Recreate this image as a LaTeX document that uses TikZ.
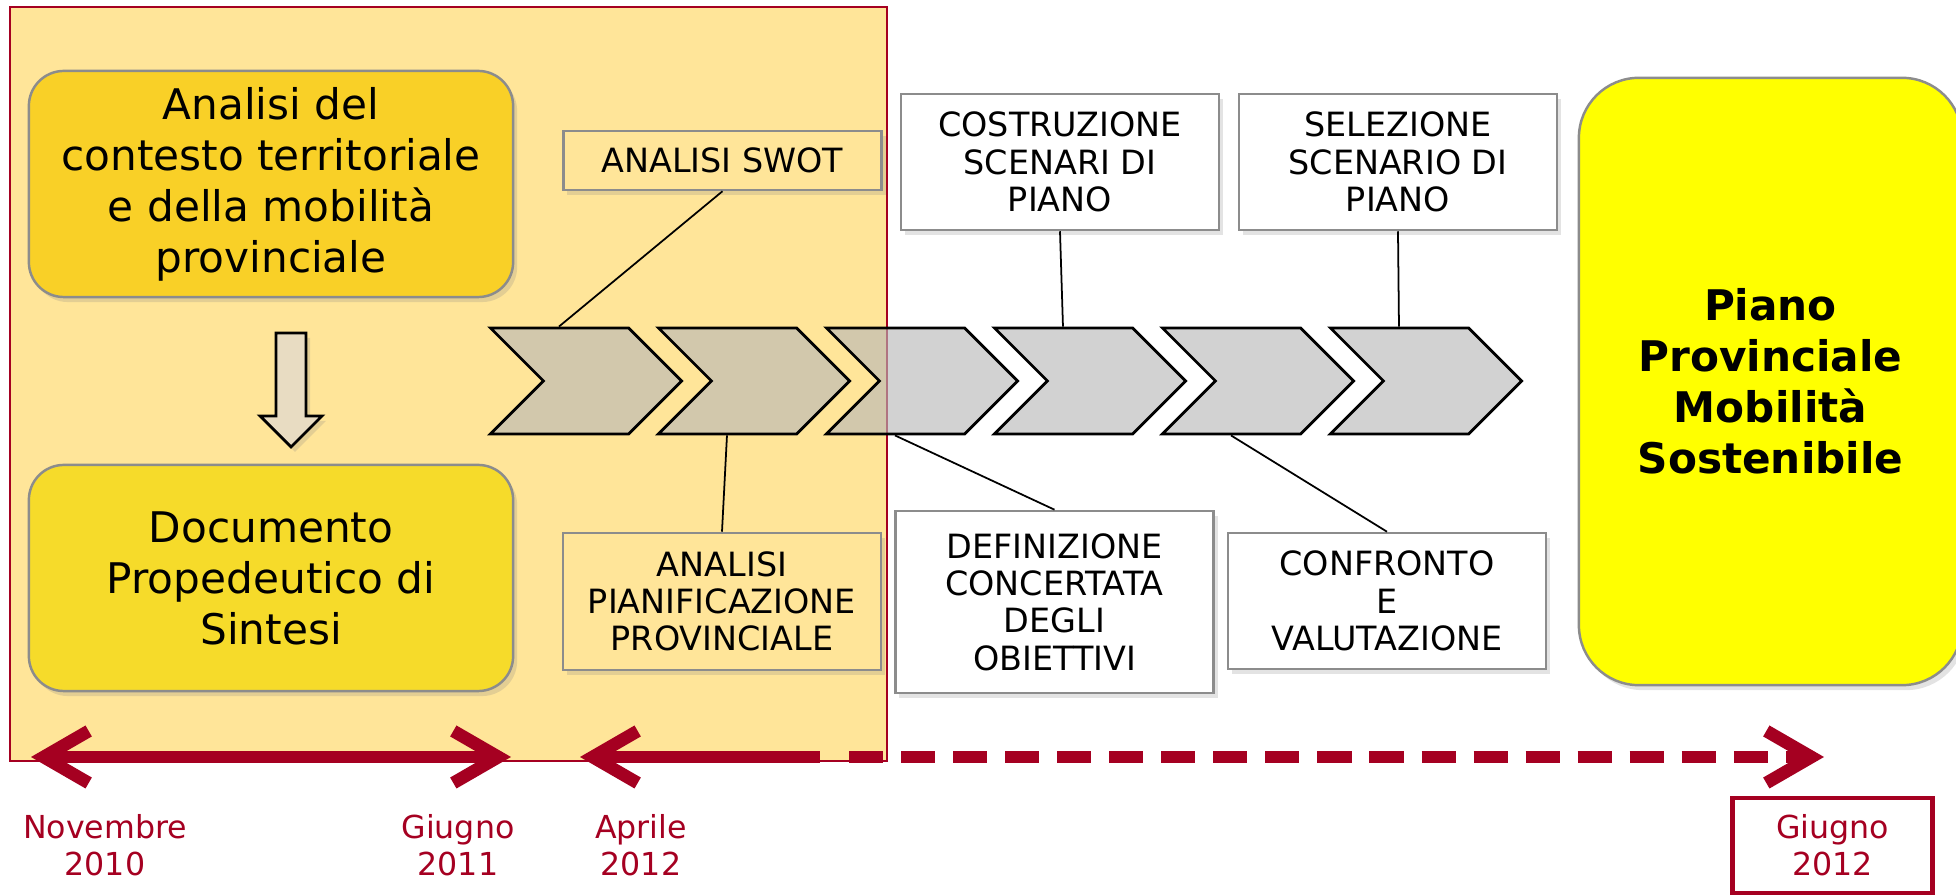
\documentclass[tikz,border=0pt]{standalone}
\usepackage{fontspec}
\setmainfont{DejaVu Sans}
\usetikzlibrary{shapes.symbols, arrows.meta, calc, shadows}
\definecolor{PPPanel}{HTML}{FFE599}
\definecolor{PPGold}{HTML}{F9D027}
\definecolor{PPYellow}{HTML}{F6DB2A}
\definecolor{PPLemon}{HTML}{FFFF00}
\definecolor{PPRed}{HTML}{A50021}
\definecolor{PPGrey}{HTML}{8C8C8C}
\definecolor{PPChevron}{HTML}{B8B8B8}
\definecolor{PPBeige}{HTML}{E8DCC2}
\tikzset{
    % Shadow
    softshadow/.style={
        drop shadow={shadow xshift=0.04cm, shadow yshift=-0.05cm, opacity=0.22}
    },
    % Box styles
    phasebox/.style={
        rectangle,
        rounded corners=0.35cm,
        draw=PPGrey,
        line width=0.7pt,
        softshadow,
        minimum width=4.84cm,
        minimum height=2.26cm,
        align=center,
        font=\fontsize{12}{14.5}\selectfont
    },
    stepbox/.style={
        rectangle,
        draw=PPGrey,
        line width=0.7pt,
        fill=white,
        softshadow,
        minimum width=3.18cm,
        inner sep=2pt,
        align=center,
        font=\fontsize{9.5}{10.6}\selectfont
    },
    chevron/.style={
        signal,
        signal to=east,
        signal from=west,
        draw=black,
        line width=0.8pt,
        fill=PPChevron,
        fill opacity=0.63,
        minimum width=1.91cm,
        minimum height=1.06cm,
        inner sep=0pt
    },
    % Connector styles
    link/.style={
        draw=black,
        line width=0.5pt
    },
    % Timeline styles
    timeline/.style={
        draw=PPRed,
        line width=3.6pt
    },
    datelabel/.style={
        align=center,
        text=PPRed,
        font=\fontsize{9}{10.5}\selectfont
    }
}
\begin{document}
\begin{tikzpicture}[x=0.01cm, y=-0.01cm,
    tip/.tip={Straight Barb[length=0.45cm, width=0.52cm]}]
    \useasboundingbox (0,0) rectangle (1956,895);

    % Phase panel
    \node[rectangle, draw=PPRed, line width=0.6pt, fill=PPPanel,
          minimum width=8.77cm, minimum height=7.54cm] (panel) at (448.5,384) {};

    % Chevrons
    \foreach \i in {1,...,6}
        \node[chevron] (chev\i) at ({586+168*(\i-1)},381) {};

    % Left boxes
    \node[phasebox, fill=PPGold] (contesto) at (271,184)
        {Analisi del\\contesto territoriale\\e della mobilità\\provinciale};
    \node[phasebox, fill=PPYellow] (documento) at (271,578)
        {Documento\\Propedeutico di\\Sintesi};
    \path[draw=black, line width=0.8pt, fill=PPBeige, softshadow]
        (276,333) -- (306,333) -- (306,416) -- (322,416) -- (291,447)
        -- (260,416) -- (276,416) -- cycle;

    % Step boxes
    \node[stepbox, fill=PPPanel, minimum height=0.59cm] (swot) at (722.5,160.5) {ANALISI SWOT};
    \node[stepbox, minimum height=1.36cm] (costruzione) at (1060,162) {COSTRUZIONE\\SCENARI DI\\PIANO};
    \node[stepbox, minimum height=1.36cm] (selezione) at (1398,162) {SELEZIONE\\SCENARIO DI\\PIANO};
    \node[stepbox, fill=PPPanel, minimum height=1.37cm] (pianificazione) at (722,601.5) {ANALISI\\PIANIFICAZIONE\\PROVINCIALE};
    \node[stepbox, minimum height=1.82cm] (definizione) at (1054.5,602) {DEFINIZIONE\\CONCERTATA\\DEGLI\\OBIETTIVI};
    \node[stepbox, minimum height=1.36cm] (confronto) at (1387,601) {CONFRONTO\\E\\VALUTAZIONE};

    % Connectors
    \draw[link] (swot.south) -- ([xshift=-0.27cm]chev1.north);
    \draw[link] (costruzione.south) -- ([xshift=-0.27cm]chev4.north);
    \draw[link] (selezione.south) -- ([xshift=-0.27cm]chev6.north);
    \draw[link] (pianificazione.north) -- ([xshift=-0.27cm]chev2.south);
    \draw[link] (definizione.north) -- ([xshift=-0.27cm]chev3.south);
    \draw[link] (confronto.north) -- ([xshift=-0.27cm]chev5.south);

    % Final plan
    \node[rectangle, rounded corners=0.6cm, draw=PPGrey, line width=0.7pt, fill=PPLemon,
          softshadow, minimum width=3.83cm, minimum height=6.07cm, align=center,
          font=\fontsize{12}{14.5}\selectfont\bfseries] (piano) at (1770.5,381.5)
        {Piano\\Provinciale\\Mobilità\\Sostenibile};

    % Timeline
    \coordinate (novembre) at (31,757);
    \coordinate (giugnoA) at (511,757);
    \coordinate (aprile) at (580,757);
    \coordinate (aprileEnd) at (820,757);
    \coordinate (dashStart) at (849,757);
    \coordinate (giugnoB) at (1824,757);
    \draw[timeline, {tip}-{tip}] (novembre) -- (giugnoA);
    \draw[timeline, {tip}-] (aprile) -- (aprileEnd);
    \draw[timeline, -{tip}, dash pattern=on 9.7pt off 5.1pt] (dashStart) -- (giugnoB);

    % Dates
    \node[datelabel] (dnov) at (105,845) {Novembre\\2010};
    \node[datelabel] (dgiu) at (458,845) {Giugno\\2011};
    \node[datelabel] (dapr) at (641,845) {Aprile\\2012};
    \node[datelabel, draw=PPRed, line width=1.4pt, minimum width=1.99cm,
          minimum height=0.95cm] (dfin) at (1832.5,845.5) {Giugno\\2012};
\end{tikzpicture}
\end{document}
